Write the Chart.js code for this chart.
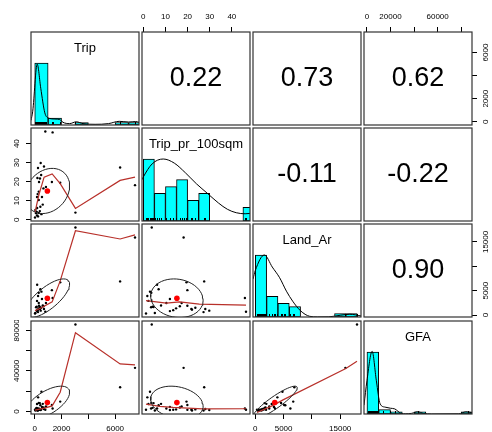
<!DOCTYPE html>
<html>
<head>
<meta charset="utf-8">
<script src="https://cdn.jsdelivr.net/npm/chart.js@4.4.1/dist/chart.umd.min.js"></script>
<style>
  body { margin: 0; background: #fff; width: 492px; height: 432px; overflow: hidden; position: relative; }
  canvas { position: absolute; }
</style>
</head>
<body>
<script>
const varNames = ["Trip", "Trip_pr_100sqm", "Land_Ar", "GFA"];

// one entry per site, same order in every list
const trip = [790, 1333, 444, 690, 244, 200, 390, 320, 837, 1280, 1900, 300, 170, 300, 540, 180, 420,
  50, 100, 300, 500, 20, 170, 3037, 6370, 7480, 150, 250, 380, 600, 220, 650, 480];
const tripPer100 = [46.4, 45.9, 29.8, 28.0, 27.2, 22.0, 21.7, 19.9, 17.3, 19.9, 19.5, 14.8, 12.0, 10.4, 12.0, 6.2, 6.9,
  5.2, 3.5, 3.6, 3.0, 1.2, 2.3, 3.8, 27.5, 18.2, 4.2, 1.8, 4.6, 8.0, 13.5, 16.5, 23.5];
const landAr = [680, 3480, 900, 1230, 600, 1100, 1230, 1900, 2460, 5100, 6700, 1370, 800, 2460, 3300, 6200, 5300,
  400, 1580, 4550, 4800, 300, 2900, 17970, 6900, 15920, 1700, 3900, 1650, 1950, 1000, 1800, 1500];
const gfa = [1700, 2900, 1490, 2460, 900, 910, 1800, 1610, 4840, 6430, 9740, 2030, 1420, 2880, 4500, 2900, 6090,
  960, 2860, 8330, 19500, 1670, 7390, 85800, 23900, 43000, 3570, 13900, 8260, 7500, 1630, 3940, 2040];

// histogram counts (bins start at 0)
const tripBinWidth = 1000;
const tripCounts = [27, 3, 0, 1, 0, 0, 1, 1];
const tpBinWidth = 5;
const tpCounts = [9, 4, 5, 6, 3, 4, 0, 0, 0, 2];
const landBinWidth = 2000;
const landCounts = [18, 6, 4, 3, 0, 0, 0, 1, 1];
const gfaBinWidth = 10000;
const gfaCounts = [28, 2, 1, 0, 1, 0, 0, 0, 1];

// density curves, height in histogram count units
const tripDensity = [[-278, 2], [-150, 6], [185, 26.5], [450, 16], [753, 5.3], [1000, 3.1], [1500, 2.6], [1860, 2.4],
  [2100, 1.2], [2600, 0.6], [3100, 1.4], [3600, 0.6], [4500, 0.3], [5500, 0.6], [6300, 1.6], [7000, 1.3], [7530, 1.5], [7778, 1.2]];
const tpDensity = [[-0.6, 6.0], [0, 6.4], [4, 8.3], [9, 9.0], [14, 8.4], [19, 7.0], [24, 5.4], [29, 4.0], [34, 2.6],
  [38, 1.7], [42, 1.2], [46, 1.05], [48.2, 1.1]];
const landDensity = [[-407, 11], [0, 13.5], [1600, 18], [3000, 14.5], [4300, 11.4], [5500, 7.5], [6600, 4.6], [8000, 1.8],
  [9600, 0.2], [11000, 0.02], [13000, 0.05], [15000, 0.5], [16700, 0.8], [18677, 0.3]];
const gfaDensity = [[-2496, 4], [0, 15], [4400, 28.3], [8000, 15], [11200, 4.6], [15400, 3.1], [20000, 2.6], [23600, 2.3],
  [29000, 0.3], [33000, 0.1], [38000, 0.3], [43000, 1.0], [48000, 0.3], [55000, 0.02], [78000, 0.1], [84000, 1.0], [89196, 0.6]];

// smoothed (red) lines of the scatter panels, [x, y]
const smoothTpOnTrip = [[20, 3.9], [300, 12.9], [700, 22.4], [1300, 24.1], [1900, 19], [3037, 6.0], [6370, 20.7], [7480, 22.4]];
const smoothLandOnTrip = [[20, 900], [500, 1500], [1300, 2700], [1900, 7000], [3037, 17300], [6370, 15600], [7480, 16450]];
const smoothGfaOnTrip = [[20, 1400], [800, 3500], [1300, 5500], [1900, 19000], [3037, 77700], [6370, 46900], [7480, 45900]];
const smoothLandOnTp = [[1.2, 2950], [10.4, 2440], [16.4, 2700], [25.3, 2230], [46.4, 2030]];
const smoothGfaOnTp = [[1.2, 7200], [7.4, 5000], [13.4, 4000], [26.8, 2600], [46.4, 2700]];
const smoothGfaOnLand = [[300, -1000], [3150, 6000], [4900, 11400], [16000, 42300], [17970, 49500]];

// correlations printed in the upper panels
const corTripTp = 0.22, corTripLand = 0.73, corTripGfa = 0.62;
const corTpLand = -0.11, corTpGfa = -0.22, corLandGfa = 0.90;

// axis ticks
const tripTicks = [0, 2000, 4000, 6000];
const tripTickText = ["0", "2000", "", "6000"];
const tpTicks = [0, 10, 20, 30, 40];
const tpTickText = ["0", "10", "20", "30", "40"];
const landTicks = [0, 5000, 10000, 15000];
const landTickText = ["0", "5000", "", "15000"];
const gfaTicks = [0, 20000, 40000, 60000, 80000];
const gfaTopText = ["0", "20000", "", "60000", ""];
const gfaLeftText = ["0", "", "40000", "", "80000"];

const columns = [trip, tripPer100, landAr, gfa];
const hists = [
  { width: tripBinWidth, counts: tripCounts, dens: tripDensity },
  { width: tpBinWidth, counts: tpCounts, dens: tpDensity },
  { width: landBinWidth, counts: landCounts, dens: landDensity },
  { width: gfaBinWidth, counts: gfaCounts, dens: gfaDensity }
];
const smooths = {
  "1-0": smoothTpOnTrip, "2-0": smoothLandOnTrip, "3-0": smoothGfaOnTrip,
  "2-1": smoothLandOnTp, "3-1": smoothGfaOnTp, "3-2": smoothGfaOnLand
};
const cors = {
  "0-1": corTripTp, "0-2": corTripLand, "0-3": corTripGfa,
  "1-2": corTpLand, "1-3": corTpGfa, "2-3": corLandGfa
};

const family = '"Liberation Sans", Arial, sans-serif';
const colX = [31, 142, 253, 364];
const rowY = [32, 128, 224, 321];
const panelW = 108, panelH = 93;

const mean = a => a.reduce((s, v) => s + v, 0) / a.length;
const sd = a => { const m = mean(a); return Math.sqrt(a.reduce((s, v) => s + (v - m) ** 2, 0) / (a.length - 1)); };
function padRange(a) {
  const lo = Math.min(...a), hi = Math.max(...a), p = (hi - lo) * 0.04;
  return [lo - p, hi + p];
}
const ranges = columns.map(padRange);

function ellipse(xm, ym, xs, ys, r) {
  const a = Math.sqrt(1 + r), b = Math.sqrt(1 - r), t = 1 / Math.sqrt(2);
  const pts = [];
  for (let k = 0; k <= 51; k++) {
    const ang = k * 2 * Math.PI / 51, c = Math.cos(ang), s = Math.sin(ang);
    pts.push({ x: xm + (c * a * t - s * b * t) * xs, y: ym + (c * a * t + s * b * t) * ys });
  }
  return pts;
}

const measureCtx = document.createElement("canvas").getContext("2d");
measureCtx.font = "8px " + family;
const widest = labels => Math.max(...labels.map(l => measureCtx.measureText(l).width));

function axis(vals, labels, pos, size) {
  const vertical = pos === "left" || pos === "right";
  let pad = 5.5;
  if (pos === "bottom") pad = 4.5;
  if (pos === "left") pad = 9 - widest(labels) / 2;
  if (pos === "right") pad = 9 - widest(labels) / 2;
  return {
    display: true,
    position: pos,
    grid: { display: true, drawOnChartArea: false, drawTicks: true, tickLength: 5, color: "#000", lineWidth: 1 },
    border: { display: false },
    ticks: {
      color: "#000", font: { family: family, size: 8 }, padding: pad, autoSkip: false,
      minRotation: vertical ? 90 : 0, maxRotation: vertical ? 90 : 0,
      crossAlign: vertical ? "center" : "near",
      callback: v => { const i = vals.indexOf(v); return i < 0 ? "" : labels[i]; }
    },
    afterBuildTicks: s => { s.ticks = vals.map(v => ({ value: v })); },
    afterFit: s => {
      if (vertical) s.width = size; else s.height = size;
      s.paddingLeft = 0; s.paddingRight = 0; s.paddingTop = 0; s.paddingBottom = 0;
    }
  };
}

const panelPlugin = {
  id: "panel",
  afterDraw(chart, args, opts) {
    const { ctx, chartArea: a } = chart;
    ctx.save();
    if (opts.rug) {
      ctx.strokeStyle = "#000";
      ctx.lineWidth = 1;
      opts.rug.forEach(v => {
        const px = Math.round(chart.scales.x.getPixelForValue(v)) + 0.5;
        ctx.beginPath(); ctx.moveTo(px, a.bottom); ctx.lineTo(px, a.bottom - 3); ctx.stroke();
      });
    }
    if (opts.text) {
      ctx.fillStyle = "#000";
      ctx.font = opts.size + "px " + family;
      ctx.textAlign = "center";
      ctx.textBaseline = "middle";
      const y = opts.top ? a.top + opts.top : (a.top + a.bottom) / 2;
      ctx.fillText(opts.text, (a.left + a.right) / 2, y);
    }
    ctx.strokeStyle = "#333";
    ctx.lineWidth = 1.2;
    ctx.strokeRect(a.left, a.top, a.right - a.left, a.bottom - a.top);
    ctx.restore();
  }
};

function makePanel(r, c) {
  const axT = r === 0 && (c === 1 || c === 3);
  const axB = r === 3 && (c === 0 || c === 2);
  const axL = c === 0 && (r === 1 || r === 3);
  const axR = c === 3 && (r === 0 || r === 2);
  const aT = axT ? rowY[0] - 1 : 0;
  const aB = axB ? 432 - (rowY[3] + panelH) - 1 : 0;
  const aL = axL ? colX[0] - 1 : 0;
  const aR = axR ? 492 - (colX[3] + panelW) - 1 : 0;

  const cv = document.createElement("canvas");
  const w = panelW + 2 + aL + aR, h = panelH + 2 + aT + aB;
  cv.width = w; cv.height = h;
  cv.style.left = (colX[c] - 1 - aL) + "px";
  cv.style.top = (rowY[r] - 1 - aT) + "px";
  cv.style.width = w + "px"; cv.style.height = h + "px";
  document.body.appendChild(cv);

  const xTicks = [tripTicks, tpTicks, landTicks, gfaTicks][c];
  const xText = c === 3 ? gfaTopText : [tripTickText, tpTickText, landTickText][c];
  const yTicks = [tripTicks, tpTicks, landTicks, gfaTicks][r];
  const yText = r === 3 ? gfaLeftText : [tripTickText, tpTickText, landTickText][r];

  let xScale = { type: "linear", display: false, offset: false, min: ranges[c][0], max: ranges[c][1] };
  if (axT) xScale = Object.assign(xScale, axis(xTicks, xText, "top", aT));
  if (axB) xScale = Object.assign(xScale, axis(xTicks, xText, "bottom", aB));

  let yScale = { type: "linear", display: false, min: ranges[r][0], max: ranges[r][1] };
  if (axL) yScale = Object.assign(yScale, axis(yTicks, yText, "left", aL));
  if (axR) yScale = Object.assign(yScale, axis(yTicks, yText, "right", aR));

  let type = "scatter", datasets = [], panelOpts = {};

  if (r === c) {
    const hd = hists[r];
    type = "bar";
    yScale.min = 0;
    yScale.max = 1.5 * Math.max(...hd.counts);
    datasets = [
      {
        type: "line", order: 0,
        data: hd.dens.map(p => ({ x: p[0], y: p[1] })),
        borderColor: "#000", borderWidth: 1, pointRadius: 0, cubicInterpolationMode: "monotone", fill: false
      },
      {
        type: "bar", order: 1,
        data: hd.counts.map((n, k) => ({ x: k * hd.width + hd.width / 2, y: n })),
        backgroundColor: "#00FFFF", borderColor: "#000", borderWidth: 1, borderSkipped: false,
        barPercentage: 1, categoryPercentage: 1
      }
    ];
    panelOpts = { text: varNames[r], size: 13, top: 16.5, rug: columns[r] };
  } else if (r < c) {
    panelOpts = { text: cors[r + "-" + c].toFixed(2), size: 27 };
  } else {
    const xs = columns[c], ys = columns[r];
    const xm = mean(xs), ym = mean(ys);
    const rr = cors[c + "-" + r];
    datasets = [
      { type: "scatter", order: 0, data: [{ x: xm, y: ym }], pointRadius: 2.8, backgroundColor: "#ff0000", borderWidth: 0 },
      {
        type: "line", order: 1, data: ellipse(xm, ym, sd(xs), sd(ys), rr),
        borderColor: "#222", borderWidth: 1, pointRadius: 0, tension: 0, fill: false
      },
      {
        type: "line", order: 2, data: smooths[r + "-" + c].map(p => ({ x: p[0], y: p[1] })),
        borderColor: "#b8302a", borderWidth: 1.2, pointRadius: 0, tension: 0, fill: false
      },
      {
        type: "scatter", order: 3, data: xs.map((v, i) => ({ x: v, y: ys[i] })),
        pointRadius: 1.2, backgroundColor: "#000", borderWidth: 0
      }
    ];
  }

  new Chart(cv, {
    type: type,
    data: { datasets: datasets },
    options: {
      responsive: false,
      devicePixelRatio: 1,
      animation: false,
      events: [],
      layout: { padding: 1, autoPadding: false },
      scales: { x: xScale, y: yScale },
      plugins: { legend: { display: false }, tooltip: { enabled: false }, panel: panelOpts }
    },
    plugins: [panelPlugin]
  });
}

for (let r = 0; r < 4; r++) {
  for (let c = 0; c < 4; c++) makePanel(r, c);
}
</script>
</body>
</html>
